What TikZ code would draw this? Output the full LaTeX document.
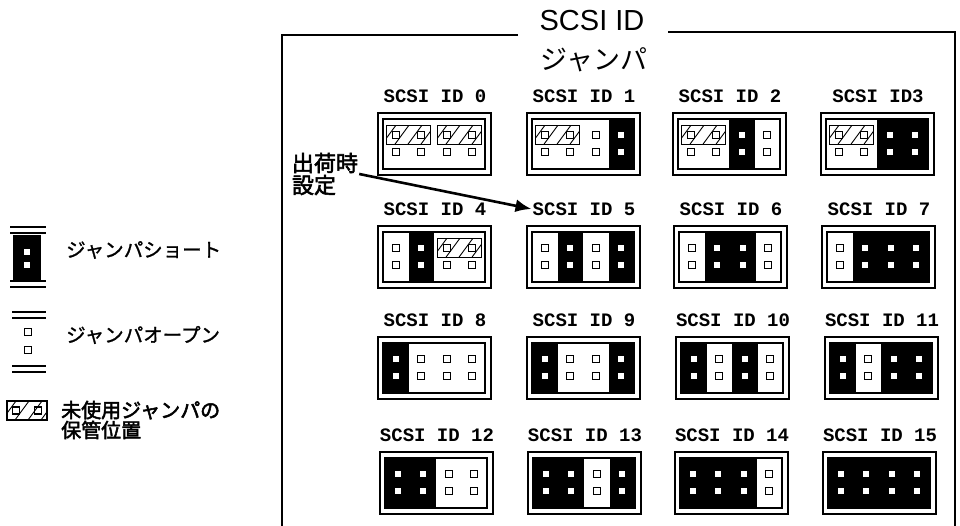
\documentclass[tikz,border=0pt]{standalone}
\usepackage{fontspec}
\setmainfont{Liberation Sans}
\newfontfamily\jpfont{Noto Sans CJK JP}
\newfontfamily\jpmid[FakeBold=1.2]{Noto Sans CJK JP}
\newfontfamily\jpbold[FakeBold=2.5]{Noto Sans CJK JP}
\newfontfamily\idfont{Liberation Mono}
\usetikzlibrary{arrows.meta}

\tikzset{
  idlabel/.style={font=\idfont\bfseries\fontsize{19}{19}\selectfont, inner sep=1pt},
  legendtext/.style={font=\jpmid\fontsize{19.5}{21}\selectfont, anchor=west, inner sep=1pt, align=left},
  openpin/.style={draw, fill=white, line width=1.1pt},
  frame/.style={line width=2.5pt},
}
% one open pin, one shorted pin, one stored (hatched) jumper
\newcommand{\openpin}[2]{\draw[openpin, shift={(#1,#2)}] (-3.5,-3.5) rectangle (3.5,3.5);}
\newcommand{\shortpin}[2]{\fill[white, shift={(#1,#2)}] (-3,-3) rectangle (3,3);}
\newcommand{\storedjp}[3]{%
  \begin{scope}[shift={(#1,#2)}]
    \fill[white] (-9,-9.5) rectangle (#3+9,9.5);
    \openpin{0}{0}\openpin{#3}{0}
    \begin{scope}
      \clip (-9,-9.5) rectangle (#3+9,9.5);
      \foreach \k in {-14,-1,12,25,38}
        \draw[line width=0.9pt] (\k,9.5) -- (\k+14,-9.5);
    \end{scope}
    \draw[line width=1.1pt] (-9,-9.5) rectangle (#3+9,9.5);
  \end{scope}}

\begin{document}
\begin{tikzpicture}[x=1pt,y=-1pt]
\useasboundingbox (0,0) rectangle (960,526);

% frame and title
\draw[frame] (518,35) -- (282,35) -- (282,527);
\draw[frame] (668,32) -- (955,32) -- (955,527);
\node[font=\fontsize{29}{29}\selectfont, inner sep=0pt] (title) at (592,21) {SCSI ID};
\node[font=\jpfont\fontsize{27}{27}\selectfont, inner sep=0pt] (titlejp) at (594,60) {ジャンパ};

% jumper blocks
\foreach \id/\bx/\by/\txt in {0/378/113/SCSI ID 0, 1/527/113/SCSI ID 1, 2/673/113/SCSI ID 2, 3/821/113/SCSI ID3,
    4/378/226/SCSI ID 4, 5/527/226/SCSI ID 5, 6/674/226/SCSI ID 6, 7/822/226/SCSI ID 7,
    8/378/337/SCSI ID 8, 9/527/337/SCSI ID 9, 10/676/337/SCSI ID 10, 11/825/337/SCSI ID 11,
    12/380/452/SCSI ID 12, 13/528/452/SCSI ID 13, 14/675/452/SCSI ID 14, 15/823/452/SCSI ID 15}{
  \begin{scope}[shift={(\bx,\by)}]
    \draw[line width=1.4pt] (0,0) rectangle (113,62);
    \draw[line width=1.2pt] (5,6) rectangle (107,56);
    \foreach \c in {1,...,4}{
      \pgfmathtruncatemacro\bit{mod(floor(\id/(2^(4-\c))),2)}
      \pgfmathsetmacro\cx{5+25.5*(\c-0.5)}
      \ifnum\bit=1
        \fill ({\cx-12.75},6) rectangle ({\cx+12.75},56);
        \shortpin{\cx}{22}\shortpin{\cx}{39}
      \else
        \openpin{\cx}{22}\openpin{\cx}{39}
      \fi
    }
  \end{scope}
  \node[idlabel] (lbl\id) at (\bx+57,\by-17) {\txt};
}

% stored jumpers
\foreach \sx/\sy in {395.75/135, 446.75/135, 544.75/135, 690.75/135, 838.75/135, 446.75/248}{
  \storedjp{\sx}{\sy}{25.5}
}

% factory setting
\node[font=\jpbold\fontsize{22}{22}\selectfont, align=left, inner sep=1pt] (ship) at (325,174) {出荷時\\設定};
\draw[line width=2.6pt, -{Latex[length=16pt,width=13pt]}] (ship.east) -- (lbl5.west);

% legend
\draw[line width=1.5pt] (10,227) -- (46,227) (10,233) -- (46,233) (10,281) -- (46,281) (10,287) -- (46,287);
\fill (13,235) rectangle (41,281);
\shortpin{27}{252}\shortpin{27}{265}
\node[legendtext] (shortlbl) at (65,250) {ジャンパショート};

\draw[line width=1.5pt] (12,312) -- (46,312) (12,318) -- (46,318) (12,366) -- (46,366) (12,372) -- (46,372);
\openpin{28}{332}\openpin{28}{350}
\node[legendtext] (openlbl) at (65,335) {ジャンパオープン};

\storedjp{16}{410.5}{22}
\node[legendtext, font=\jpbold\fontsize{20}{20}\selectfont] (storelbl) at (60,420) {未使用ジャンパの\\保管位置};
\end{tikzpicture}
\end{document}
